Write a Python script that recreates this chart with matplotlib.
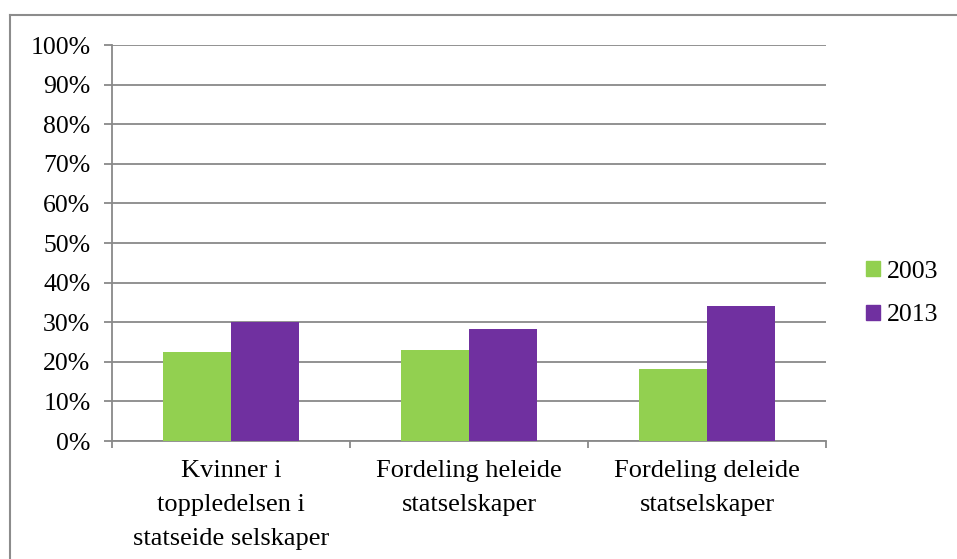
import matplotlib
matplotlib.use("Agg")
import matplotlib.pyplot as plt
from matplotlib.lines import Line2D
from matplotlib.patches import Patch
import numpy as np

categories = ["Kvinner i\ntoppledelsen i\nstatseide selskaper",
              "Fordeling heleide\nstatselskaper",
              "Fordeling deleide\nstatselskaper"]
series_names = ["2003", "2013"]
values_2003 = [22.6, 22.9, 18.1]
values_2013 = [30.0, 28.4, 34.1]
colors = ["#92D050", "#7030A0"]
yticks = list(range(0, 101, 10))
ytick_labels = [f"{v}%" for v in yticks]

plt.rcParams['font.family'] = ['Liberation Serif', 'DejaVu Serif']
FS = 18.5

W, H = 957, 559
fig = plt.figure(figsize=(W/100, H/100), dpi=100)
ax = fig.add_axes([112/W, 1-441/H, 714/W, 396/H])

x = np.arange(len(categories))
bw = 0.2857
ax.bar(x - bw/2, values_2003, bw, color=colors[0], zorder=3, label=series_names[0])
ax.bar(x + bw/2, values_2013, bw, color=colors[1], zorder=3, label=series_names[1])

grid_c = "#898989"
ax.set_ylim(0, 100)
ax.set_xlim(-0.5, len(categories) - 0.5)
ax.set_yticks(yticks)
ax.set_yticklabels(ytick_labels, fontsize=FS)
ax.yaxis.grid(True, color=grid_c, linewidth=1.3, zorder=0)
ax.set_axisbelow(True)

ax.set_xticks(np.arange(-0.5, len(categories)), minor=False)
ax.set_xticklabels([])
ax.set_xticks(x, minor=True)
ax.set_xticklabels(categories, minor=True, fontsize=19, linespacing=1.68)
ax.tick_params(axis='x', which='minor', length=0, pad=14)
ax.tick_params(axis='x', which='major', length=5, width=1.3, color=grid_c, direction='out')
ax.tick_params(axis='y', length=5.5, width=1.3, color=grid_c, direction='out', pad=10)

for s in ['top', 'right']:
    ax.spines[s].set_visible(False)
for s in ['left', 'bottom']:
    ax.spines[s].set_color(grid_c)
    ax.spines[s].set_linewidth(1.3)

handles = [Patch(color=colors[0], label=series_names[0]), Patch(color=colors[1], label=series_names[1])]
fig.legend(handles=handles, loc='center left', bbox_to_anchor=(866/W, 1-293.5/H),
           frameon=False, fontsize=FS, handlelength=0.55, handleheight=0.55,
           handletextpad=0.25, labelspacing=0.85, borderpad=0, borderaxespad=0)

# outer chart border (top and left visible)
fig.add_artist(Line2D([10/W, 1.0], [1-14.5/H, 1-14.5/H], color="#8c8c8c", linewidth=1.5))
fig.add_artist(Line2D([10/W, 10/W], [0, 1-14.5/H], color="#8c8c8c", linewidth=1.5))

fig.savefig("out.png", dpi=100, facecolor="white")
